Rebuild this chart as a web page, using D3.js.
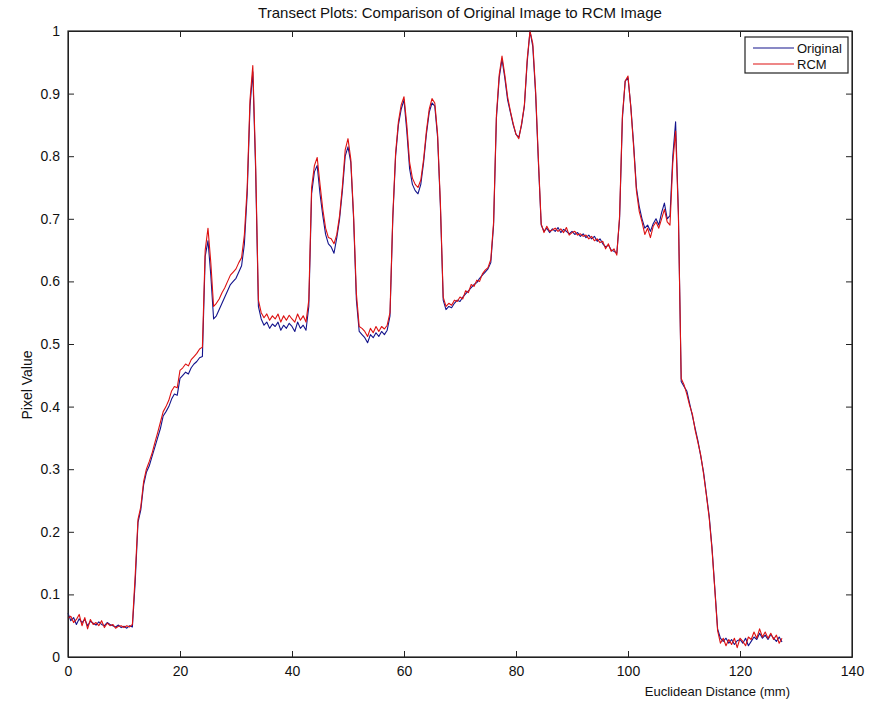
<!DOCTYPE html>
<html>
<head>
<meta charset="utf-8">
<script src="https://cdn.jsdelivr.net/npm/d3@7"></script>
<style>
  body { margin: 0; background: #fff; }
  text { font-family: "Liberation Sans", Arial, sans-serif; fill: #111; }
</style>
</head>
<body>
<svg id="chart" width="873" height="726"></svg>
<script>
// distance samples every 0.5 mm, 0 .. 127.5
var xStart = 0, xStep = 0.5;

var original = [
  0.070, 0.058, 0.063, 0.052, 0.061, 0.055, 0.060, 0.050, 0.057, 0.054, 0.051, 0.056, 0.052, 0.050, 0.055, 0.052, 0.050, 0.048, 0.051, 0.047,
  0.049, 0.046, 0.050, 0.048, 0.120, 0.215, 0.235, 0.275, 0.295, 0.305, 0.320, 0.335, 0.350, 0.365, 0.385, 0.392, 0.400, 0.412, 0.420, 0.418,
  0.445, 0.450, 0.455, 0.452, 0.462, 0.468, 0.472, 0.478, 0.480, 0.640, 0.665, 0.610, 0.540, 0.545, 0.555, 0.565, 0.575, 0.585, 0.595, 0.600,
  0.605, 0.615, 0.625, 0.660, 0.740, 0.880, 0.935, 0.780, 0.560, 0.540, 0.530, 0.535, 0.525, 0.532, 0.528, 0.535, 0.522, 0.530, 0.525, 0.533,
  0.528, 0.520, 0.535, 0.525, 0.530, 0.522, 0.560, 0.740, 0.775, 0.785, 0.740, 0.705, 0.675, 0.660, 0.655, 0.645, 0.670, 0.700, 0.745, 0.800,
  0.815, 0.790, 0.700, 0.570, 0.520, 0.515, 0.510, 0.502, 0.515, 0.510, 0.518, 0.512, 0.520, 0.515, 0.522, 0.545, 0.700, 0.800, 0.850, 0.875,
  0.890, 0.840, 0.780, 0.755, 0.745, 0.740, 0.755, 0.790, 0.835, 0.870, 0.885, 0.880, 0.830, 0.720, 0.570, 0.555, 0.560, 0.558, 0.565, 0.570,
  0.568, 0.575, 0.580, 0.585, 0.590, 0.595, 0.598, 0.605, 0.610, 0.615, 0.620, 0.630, 0.690, 0.860, 0.925, 0.955, 0.925, 0.890, 0.870, 0.850,
  0.835, 0.830, 0.850, 0.880, 0.950, 1.000, 0.975, 0.900, 0.790, 0.690, 0.680, 0.685, 0.678, 0.684, 0.680, 0.686, 0.678, 0.683, 0.680, 0.676,
  0.680, 0.675, 0.678, 0.672, 0.676, 0.670, 0.674, 0.668, 0.672, 0.664, 0.668, 0.660, 0.655, 0.658, 0.650, 0.648, 0.645, 0.700, 0.860, 0.920,
  0.925, 0.880, 0.820, 0.750, 0.720, 0.700, 0.685, 0.690, 0.680, 0.692, 0.700, 0.690, 0.710, 0.725, 0.700, 0.705, 0.800, 0.855, 0.710, 0.440,
  0.432, 0.425, 0.405, 0.385, 0.365, 0.345, 0.320, 0.295, 0.260, 0.225, 0.175, 0.110, 0.045, 0.030, 0.025, 0.030, 0.022, 0.028, 0.020, 0.026,
  0.028, 0.022, 0.030, 0.018, 0.025, 0.032, 0.028, 0.038, 0.030, 0.035, 0.028, 0.036, 0.030, 0.025, 0.032, 0.024
];

var rcm = [
  0.062, 0.065, 0.055, 0.060, 0.068, 0.050, 0.063, 0.045, 0.060, 0.052, 0.055, 0.050, 0.058, 0.047, 0.054, 0.050, 0.052, 0.046, 0.049, 0.050,
  0.047, 0.050, 0.048, 0.052, 0.130, 0.220, 0.240, 0.280, 0.300, 0.312, 0.325, 0.342, 0.358, 0.375, 0.392, 0.400, 0.410, 0.425, 0.432, 0.430,
  0.458, 0.462, 0.468, 0.465, 0.475, 0.480, 0.485, 0.492, 0.495, 0.650, 0.685, 0.630, 0.560, 0.565, 0.572, 0.582, 0.590, 0.600, 0.610, 0.615,
  0.620, 0.630, 0.638, 0.675, 0.750, 0.890, 0.945, 0.790, 0.570, 0.550, 0.542, 0.548, 0.538, 0.545, 0.540, 0.548, 0.535, 0.545, 0.538, 0.546,
  0.540, 0.535, 0.548, 0.538, 0.545, 0.535, 0.570, 0.750, 0.785, 0.798, 0.755, 0.715, 0.685, 0.670, 0.668, 0.660, 0.675, 0.705, 0.752, 0.810,
  0.828, 0.795, 0.705, 0.580, 0.528, 0.525, 0.520, 0.512, 0.525, 0.518, 0.528, 0.520, 0.528, 0.524, 0.530, 0.550, 0.705, 0.805, 0.855, 0.882,
  0.895, 0.850, 0.790, 0.765, 0.755, 0.750, 0.762, 0.795, 0.840, 0.875, 0.892, 0.885, 0.835, 0.725, 0.575, 0.560, 0.565, 0.562, 0.570, 0.568,
  0.575, 0.572, 0.585, 0.582, 0.595, 0.592, 0.602, 0.600, 0.612, 0.618, 0.622, 0.635, 0.695, 0.865, 0.930, 0.960, 0.930, 0.895, 0.872, 0.852,
  0.835, 0.828, 0.852, 0.882, 0.955, 1.000, 0.980, 0.905, 0.795, 0.692, 0.678, 0.688, 0.680, 0.682, 0.685, 0.680, 0.684, 0.678, 0.686, 0.674,
  0.678, 0.680, 0.674, 0.676, 0.672, 0.674, 0.668, 0.672, 0.665, 0.668, 0.662, 0.664, 0.652, 0.660, 0.648, 0.652, 0.642, 0.705, 0.865, 0.920,
  0.928, 0.878, 0.815, 0.745, 0.712, 0.695, 0.675, 0.685, 0.670, 0.688, 0.695, 0.685, 0.700, 0.715, 0.695, 0.690, 0.790, 0.840, 0.705, 0.445,
  0.435, 0.420, 0.402, 0.388, 0.362, 0.342, 0.322, 0.292, 0.258, 0.222, 0.172, 0.108, 0.042, 0.022, 0.030, 0.018, 0.028, 0.020, 0.030, 0.015,
  0.030, 0.025, 0.018, 0.032, 0.028, 0.040, 0.030, 0.045, 0.032, 0.040, 0.030, 0.038, 0.028, 0.035, 0.022, 0.030
];

var seriesNames = ["Original", "RCM"];
var seriesColors = ["#14148c", "#dd1111"];
var xTicks = [0, 20, 40, 60, 80, 100, 120, 140];
var yTicks = [0, 0.1, 0.2, 0.3, 0.4, 0.5, 0.6, 0.7, 0.8, 0.9, 1];

var svg = d3.select("#chart"),
  margin = {top: 31, right: 21, bottom: 69, left: 68},
  width = 873 - margin.left - margin.right,
  height = 726 - margin.top - margin.bottom,
  g = svg.append("g").attr("transform", "translate(" + margin.left + "," + margin.top + ")");

var x = d3.scaleLinear().domain([0, 140]).range([0, width]);
var y = d3.scaleLinear().domain([0, 1]).range([height, 0]);

var line = d3.line()
  .x(function(d, i) { return x(xStart + i * xStep); })
  .y(function(d) { return y(d); });

var tickFmt = function(d) { return d3.format("~g")(d); };

// bottom / left axes with inward ticks
g.append("g")
  .attr("transform", "translate(0," + height + ")")
  .call(d3.axisBottom(x).tickValues(xTicks).tickSizeInner(-6).tickSizeOuter(0).tickPadding(9).tickFormat(tickFmt));
g.append("g")
  .call(d3.axisLeft(y).tickValues(yTicks).tickSizeInner(-6).tickSizeOuter(0).tickPadding(8).tickFormat(tickFmt));
// mirrored ticks on top and right
g.append("g")
  .call(d3.axisTop(x).tickValues(xTicks).tickSizeInner(-6).tickSizeOuter(0).tickFormat(""));
g.append("g")
  .attr("transform", "translate(" + width + ",0)")
  .call(d3.axisRight(y).tickValues(yTicks).tickSizeInner(-6).tickSizeOuter(0).tickFormat(""));

g.selectAll(".tick text").style("font-size", "14px").attr("fill", "#111");
g.selectAll(".domain, .tick line").attr("stroke", "#222");

// data lines
var lineData = [original, rcm];
for (var i = 0; i < lineData.length; i++) {
  g.append("path")
    .datum(lineData[i])
    .attr("fill", "none")
    .attr("stroke", seriesColors[i])
    .attr("stroke-width", 1.1)
    .attr("stroke-linejoin", "round")
    .attr("d", line);
}

// box
g.append("rect")
  .attr("width", width).attr("height", height)
  .attr("fill", "none").attr("stroke", "#222").attr("stroke-width", 1.2);

// legend
var lg = g.append("g").attr("transform", "translate(" + (width - 107) + ",6)");
lg.append("rect").attr("width", 103).attr("height", 36)
  .attr("fill", "#fff").attr("stroke", "#222").attr("stroke-width", 1.2);
for (var i = 0; i < seriesNames.length; i++) {
  lg.append("line")
    .attr("x1", 8).attr("x2", 49)
    .attr("y1", 11 + i * 16).attr("y2", 11 + i * 16)
    .attr("stroke", seriesColors[i]).attr("stroke-width", 1.2);
  lg.append("text")
    .attr("x", 52).attr("y", 11 + i * 16).attr("dy", "0.35em")
    .style("font-size", "13px")
    .text(seriesNames[i]);
}

// title and labels
svg.append("text")
  .attr("x", margin.left + width / 2).attr("y", 18)
  .attr("text-anchor", "middle")
  .style("font-size", "15px")
  .text("Transect Plots: Comparison of Original Image to RCM Image");

svg.append("text")
  .attr("x", 790).attr("y", 696)
  .attr("text-anchor", "end")
  .style("font-size", "13px")
  .text("Euclidean Distance (mm)");

svg.append("text")
  .attr("transform", "translate(32,385) rotate(-90)")
  .attr("text-anchor", "middle")
  .style("font-size", "14px")
  .text("Pixel Value");
</script>
</body>
</html>
